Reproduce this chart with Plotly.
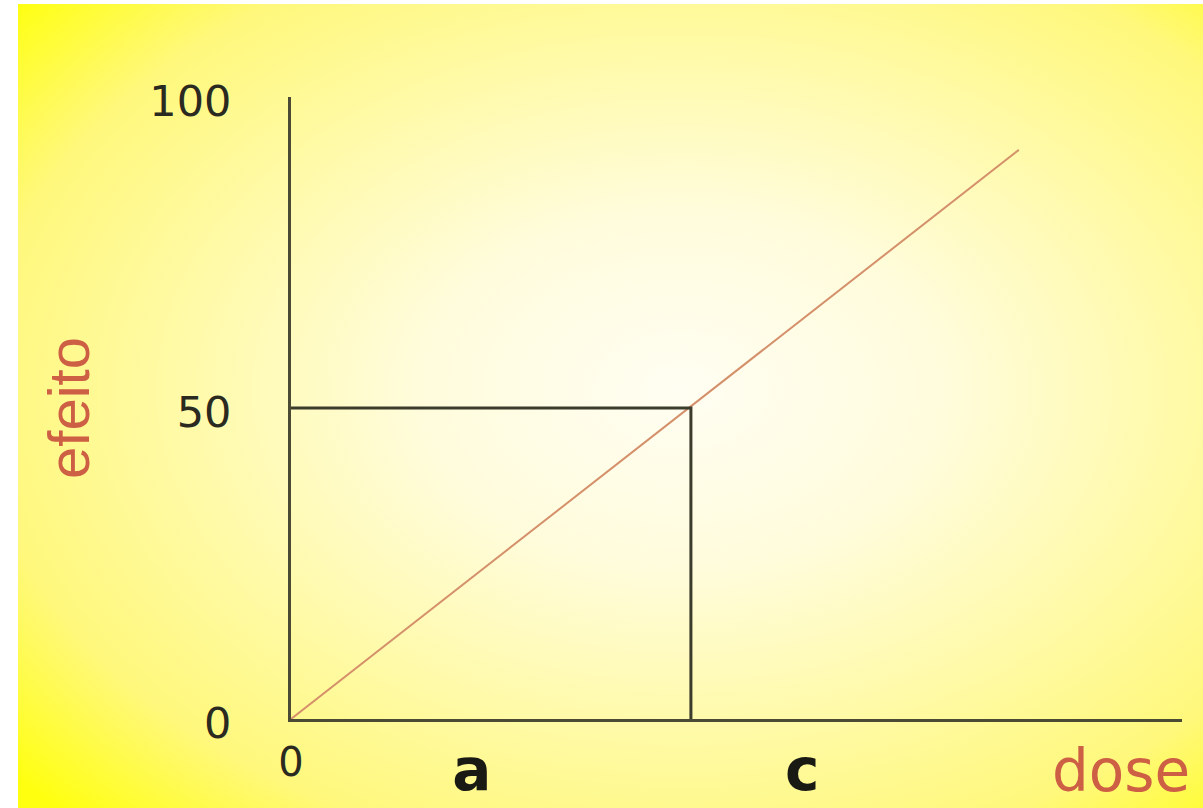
import base64
import plotly.graph_objects as go

# ---- data ----
line_dose = [0, 91]
line_effect = [0, 91.5]
ref_dose = [0, 50, 50]
ref_effect = [50, 50, 0]
y_tick_vals = [0, 50, 100]
y_tick_text = ["0", "50", "100"]
x_tick_vals = [0]
x_tick_text = ["0"]
letter_vals = [22.6, 63.9]
letter_text = ["a", "c"]
x_title = "dose"
y_title = "efeito"
x_max = 111.4

# ---- background gradient as SVG ----
svg = (
    '<svg xmlns="http://www.w3.org/2000/svg" width="1185" height="804" '
    'viewBox="0 0 100 100" preserveAspectRatio="none">'
    '<defs><radialGradient id="g" cx="0.56" cy="0.48" r="0.74">'
    '<stop offset="0" stop-color="#fffef2"/>'
    '<stop offset="0.3" stop-color="#fffcdc"/>'
    '<stop offset="0.58" stop-color="#fffaa6"/>'
    '<stop offset="0.8" stop-color="#fff87c"/>'
    '<stop offset="1" stop-color="#ffff10"/>'
    '</radialGradient></defs>'
    '<rect x="0" y="0" width="100" height="100" fill="url(#g)"/></svg>'
)
src = "data:image/svg+xml;base64," + base64.b64encode(svg.encode()).decode()

L, R, T, B = 291, 1182, 97, 719
W, H = 1203, 808
pw, ph = R - L, B - T

fig = go.Figure()
fig.add_trace(go.Scatter(x=line_dose, y=line_effect, mode="lines",
                         line=dict(color="#d4906a", width=2), hoverinfo="skip"))
fig.add_trace(go.Scatter(x=ref_dose, y=ref_effect, mode="lines", xaxis="x2",
                         line=dict(color="#3c3c2c", width=3), hoverinfo="skip"))

fig.add_annotation(text=x_title, xref="x", yref="paper", x=103.8, y=0,
                   yanchor="middle", xanchor="center", yshift=-52, showarrow=False,
                   font=dict(family="DejaVu Sans", size=58, color="#cd5f45"))

fig.update_layout(
    width=W, height=H,
    margin=dict(l=L, r=W - R, t=T, b=H - B, pad=0, autoexpand=False),
    paper_bgcolor="white",
    plot_bgcolor="rgba(0,0,0,0)",
    showlegend=False,
    images=[dict(source=src, xref="paper", yref="paper",
                 x=(18 - L) / pw, y=(B - 4) / ph,
                 sizex=(W - 18) / pw, sizey=(H - 4) / ph,
                 xanchor="left", yanchor="top", sizing="stretch", layer="below")],
    xaxis=dict(range=[0, x_max], showgrid=False, zeroline=False, showline=True,
               linecolor="#4b4b35", linewidth=3, ticks="",
               tickvals=x_tick_vals, ticktext=x_tick_text, ticklabelstandoff=6,
               tickfont=dict(family="DejaVu Sans", size=40, color="#2a2a20")),
    xaxis2=dict(matches="x", overlaying="x", anchor="y", side="bottom",
                showgrid=False, zeroline=False, showline=False, ticks="",
                tickvals=letter_vals, ticktext=letter_text, ticklabelstandoff=12,
                tickfont=dict(family="DejaVu Sans", size=58, color="#1a1a14",
                              weight="bold")),
    yaxis=dict(range=[0, 100], showgrid=False, zeroline=False, showline=True,
               linecolor="#4b4b35", linewidth=3, ticks="",
               tickvals=y_tick_vals, ticktext=y_tick_text, ticklabelstandoff=48,
               ticklabelshift=4,
               tickfont=dict(family="DejaVu Sans", size=43, color="#2a2a20"),
               title=dict(text=y_title, standoff=42,
                          font=dict(family="Liberation Sans", size=58,
                                    color="#cd5f45"))),
)

fig.write_html("out.html",
               config={"displayModeBar": False},
               post_script="document.body.style.margin='0';"
                           "document.body.style.overflow='hidden';")
